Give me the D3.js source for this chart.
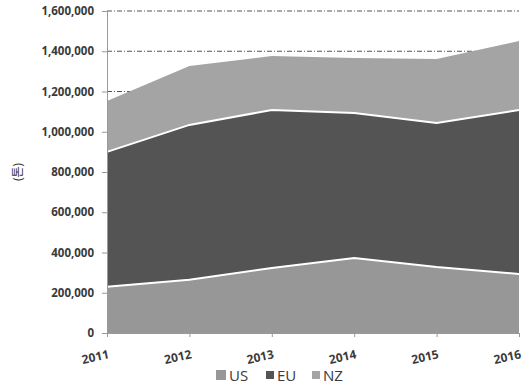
<!DOCTYPE html>
<meta charset="utf-8">
<script src="https://d3js.org/d3.v7.min.js"></script>
<style>
  body { margin: 0; background: #fff; }
  svg text { font-family: "Open Sans", "Noto Sans CJK KR", sans-serif; }
</style>
<div id="chart"></div>
<script>
var years = ["2011", "2012", "2013", "2014", "2015", "2016"];
var seriesNames = ["US", "EU", "NZ"];
var usVals = [230000, 265000, 323000, 373000, 328000, 293000];
var euVals = [670000, 769000, 785000, 720000, 715000, 815000];
var nzVals = [253000, 293000, 268000, 273000, 318000, 343000];
var yTicks = [0, 200000, 400000, 600000, 800000, 1000000, 1200000, 1400000, 1600000];
var gridTicks = [1200000, 1400000, 1600000];

var colors = { US: "#979797", EU: "#545454", NZ: "#a4a4a4" };

var W = 531, H = 386;
var margin = {top: 11, right: 12, bottom: 53, left: 107};
var width = W - margin.left - margin.right,
    height = H - margin.top - margin.bottom;

var svg = d3.select("#chart").append("svg")
    .attr("width", W).attr("height", H);
var g = svg.append("g")
    .attr("transform", "translate(" + margin.left + "," + margin.top + ")");

var rows = years.map(function(y, i) {
  return { year: y, US: usVals[i], EU: euVals[i], NZ: nzVals[i] };
});

var x = d3.scalePoint().domain(years).range([0, width]);
var y = d3.scaleLinear().domain([0, 1600000]).range([height, 0]);

// dashed gridlines (drawn under the areas)
g.selectAll(".grid")
  .data(gridTicks)
  .enter().append("line")
    .attr("x1", 0).attr("x2", width)
    .attr("y1", function(d) { return y(d); })
    .attr("y2", function(d) { return y(d); })
    .attr("stroke", "#555")
    .attr("stroke-width", 1)
    .attr("stroke-dasharray", "5,2,1,2");

var stack = d3.stack().keys(seriesNames);
var layers = stack(rows);

var area = d3.area()
  .x(function(d) { return x(d.data.year); })
  .y0(function(d) { return y(d[0]); })
  .y1(function(d) { return y(d[1]); });

var topLine = d3.line()
  .x(function(d) { return x(d.data.year); })
  .y(function(d) { return y(d[1]); });

g.selectAll(".layer")
  .data(layers)
  .enter().append("path")
    .attr("d", area)
    .attr("fill", function(d) { return colors[d.key]; });

// white separators between layers
g.selectAll(".sep")
  .data(layers.slice(0, 2))
  .enter().append("path")
    .attr("d", topLine)
    .attr("fill", "none")
    .attr("stroke", "#fff")
    .attr("stroke-width", 2);

// y axis
var yAxis = g.append("g")
  .call(d3.axisLeft(y).tickValues(yTicks).tickSize(5).tickPadding(8)
    .tickFormat(d3.format(",")));
yAxis.select(".domain").attr("stroke", "#999");
yAxis.selectAll(".tick line").attr("stroke", "#999");
yAxis.selectAll("text")
  .attr("fill", "#3a3a3a")
  .style("font-size", "11.5px")
  .style("font-weight", "bold");

// x axis
var xAxis = g.append("g")
  .attr("transform", "translate(0," + height + ")")
  .call(d3.axisBottom(x).tickSize(4).tickSizeOuter(0));
xAxis.select(".domain").attr("stroke", "#999");
xAxis.selectAll(".tick line").attr("stroke", "#999");
xAxis.selectAll("text")
  .attr("fill", "#3a3a3a")
  .style("font-size", "12px")
  .style("font-weight", "bold")
  .attr("text-anchor", "end")
  .attr("transform", "translate(-1,10) rotate(-12)");

// y label
svg.append("text")
  .attr("transform", "translate(22,172) rotate(-90)")
  .attr("text-anchor", "middle")
  .attr("fill", "#333")
  .style("font-size", "12px")
  .text("(톤)");

// legend
var legend = svg.append("g").attr("transform", "translate(0,381)");
var boxX = [216, 266, 312];
var boxS = [10, 8, 8];
seriesNames.forEach(function(s, i) {
  legend.append("rect")
    .attr("x", boxX[i]).attr("y", -5 - boxS[i] / 2 - 1)
    .attr("width", boxS[i]).attr("height", boxS[i])
    .attr("fill", colors[s]);
  legend.append("text")
    .attr("x", boxX[i] + boxS[i] + 3).attr("y", 0)
    .attr("fill", "#3a3a3a")
    .style("font-size", "15px")
    .text(s);
});
</script>
